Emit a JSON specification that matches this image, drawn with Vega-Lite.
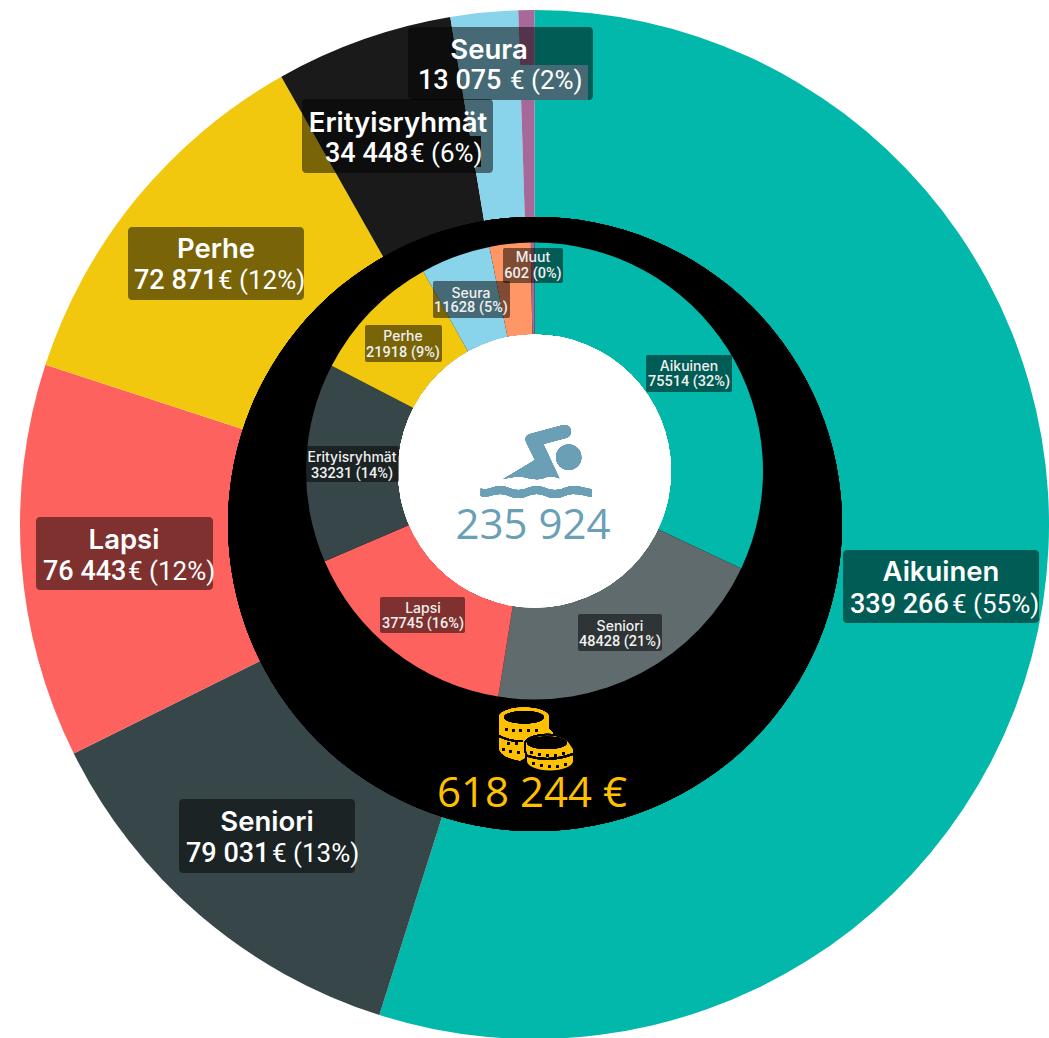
{
"$schema":"https://vega.github.io/schema/vega-lite/v6.json",
"width":1049,"height":1038,"padding":0,"autosize":{"type":"none"},
"background":"white",
"config":{"view":{"stroke":null}},
"datasets":{
"outer":[
{"category":"Aikuinen","euros":339266,"rank":1},
{"category":"Seniori","euros":79031,"rank":2},
{"category":"Lapsi","euros":76443,"rank":3},
{"category":"Perhe","euros":72871,"rank":4},
{"category":"Erityisryhmät","euros":34448,"rank":5},
{"category":"Seura","euros":13075,"rank":6},
{"category":"Muut","euros":3110,"rank":7}],
"inner":[
{"category":"Aikuinen","swimmers":75514,"rank":1},
{"category":"Seniori","swimmers":48428,"rank":2},
{"category":"Lapsi","swimmers":37745,"rank":3},
{"category":"Erityisryhmät","swimmers":33231,"rank":4},
{"category":"Perhe","swimmers":21918,"rank":5},
{"category":"Seura","swimmers":11628,"rank":6},
{"category":"Muu","swimmers":6858,"rank":7},
{"category":"Muut","swimmers":602,"rank":8}],
"patches":[
{"category":"Seura","px0":466,"px1":588,"py0":65,"py1":100},
{"category":"Erityisryhmät","px0":440,"px1":481,"py0":136,"py1":167}],
"outerLabels":[
{"name":"Aikuinen","number":"339 266","suffix":"€ (55%)","bx0":843,"bx1":1039,"by0":550,"by1":623,"cx":941,"y1":581,"y2":613,"nx":850,"sx":952},
{"name":"Seniori","number":"79 031","suffix":"€ (13%)","bx0":179,"bx1":355,"by0":799,"by1":873,"cx":267,"y1":831,"y2":862,"nx":186,"sx":272},
{"name":"Lapsi","number":"76 443","suffix":"€ (12%)","bx0":36,"bx1":213,"by0":517,"by1":590,"cx":124,"y1":549,"y2":580,"nx":43,"sx":128},
{"name":"Perhe","number":"72 871","suffix":"€ (12%)","bx0":128,"bx1":304,"by0":227,"by1":300,"cx":216,"y1":258,"y2":289,"nx":134,"sx":218},
{"name":"Erityisryhmät","number":"34 448","suffix":"€ (6%)","bx0":302,"bx1":493,"by0":99,"by1":173,"cx":398,"y1":132,"y2":162,"nx":325,"sx":410},
{"name":"Seura","number":"13 075","suffix":"€ (2%)","bx0":408,"bx1":593,"by0":27,"by1":100,"cx":489,"y1":59,"y2":89,"nx":418,"sx":510}],
"innerLabels":[
{"name":"Aikuinen","line2":"75514 (32%)","bx0":646,"bx1":732,"by0":355,"by1":392,"cx":689,"y1":371,"y2":386},
{"name":"Seniori","line2":"48428 (21%)","bx0":578,"bx1":662,"by0":614,"by1":651,"cx":620,"y1":631,"y2":646},
{"name":"Lapsi","line2":"37745 (16%)","bx0":380,"bx1":465,"by0":597,"by1":633,"cx":423,"y1":613,"y2":628},
{"name":"Erityisryhmät","line2":"33231 (14%)","bx0":305,"bx1":399,"by0":446,"by1":482,"cx":352,"y1":462,"y2":478},
{"name":"Perhe","line2":"21918 (9%)","bx0":365,"bx1":442,"by0":325,"by1":362,"cx":403,"y1":341,"y2":357},
{"name":"Seura","line2":"11628 (5%)","bx0":433,"bx1":510,"by0":281,"by1":318,"cx":471,"y1":298,"y2":312},
{"name":"Muut","line2":"602 (0%)","bx0":503,"bx1":563,"by0":248,"by1":283,"cx":533,"y1":262,"y2":278}],
"totals":[
{"label":"235 924","tx":533,"ty":539,"colour":"swim"},
{"label":"618 244 €","tx":532,"ty":807,"colour":"coin"}]
},
"data":{"name":"outer"},
"layer":[
{"data":{"name":"outer"},
 "mark":{"type":"arc","radius":514.5,"radius2":0},
 "encoding":{
  "x":{"datum":534.5,"type":"quantitative","scale":{"domain":[0,1049],"range":[0,1049],"nice":false,"zero":false},"axis":null},
  "y":{"datum":524.5,"type":"quantitative","scale":{"domain":[0,1038],"range":[0,1038],"nice":false,"zero":false},"axis":null},
  "theta":{"field":"euros","type":"quantitative","stack":"normalize","scale":{"domain":[0,1],"range":[0,6.28318530718]}},
  "order":{"field":"rank"},
  "color":{"field":"category","type":"nominal","legend":null,"scale":{"domain":["Aikuinen","Seniori","Lapsi","Perhe","Erityisryhmät","Seura","Muut"],"range":["#01B8AA","#374649","#FD625E","#F2C80F","#1A1A1A","#8AD4EB","#A66999"]}}
 }},
{"data":{"name":"patches"},
 "mark":{"type":"rect"},
 "encoding":{
  "x":{"field":"px0","type":"quantitative"},"x2":{"field":"px1"},
  "y":{"field":"py0","type":"quantitative"},"y2":{"field":"py1"},
  "color":{"field":"category","type":"nominal","legend":null,"scale":{"domain":["Erityisryhmät","Seura"],"range":["#1A1A1A","#8AD4EB"]}}
 }},
{"mark":{"type":"point","shape":"circle","filled":true,"fill":"#000000","opacity":1,"strokeWidth":0,"size":376996},
 "encoding":{"x":{"datum":535,"type":"quantitative"},"y":{"datum":524,"type":"quantitative"}}},
{"data":{"name":"inner"},
 "mark":{"type":"arc","radius":228.5,"radius2":136.5},
 "encoding":{
  "x":{"datum":534.5,"type":"quantitative"},
  "y":{"datum":471,"type":"quantitative"},
  "theta":{"field":"swimmers","type":"quantitative","stack":"normalize","scale":{"domain":[0,1],"range":[0,6.28318530718]}},
  "order":{"field":"rank"},
  "color":{"field":"category","type":"nominal","legend":null,"scale":{"domain":["Aikuinen","Seniori","Lapsi","Erityisryhmät","Perhe","Seura","Muu","Muut"],"range":["#01B8AA","#5F6B6D","#FD625E","#374649","#F2C80F","#8AD4EB","#FE9666","#A66999"]}}
 }},
{"mark":{"type":"point","shape":"circle","filled":true,"fill":"#FFFFFF","opacity":1,"strokeWidth":0,"size":74529},
 "encoding":{"x":{"datum":534.5,"type":"quantitative"},"y":{"datum":471,"type":"quantitative"}}},
{"mark":{"type":"point","filled":true,"fill":"#6A9FB5","opacity":1,"strokeWidth":0,"size":4,
  "shape":"M-31.7,14 L0,-5 L-9,-23.3 Q-11,-29 -5,-31 L28.3,-40 Q35,-41 36,-34 Q36,-28 30,-26.7 L8.3,-21 L24.3,13.3 Q18,10.5 11.7,12 Q6,14.5 1.7,14.3 Q-5,14 -11.7,12 Q-20,11 -31.7,14 Z M21,-7.7 A12.7,12.7 0 1 0 46.4,-7.7 A12.7,12.7 0 1 0 21,-7.7 Z M-54.3,23.5 C-47,26 -42,21 -35,21 C-27,21 -24,25 -16.5,25 C-9,25 -6,21 1.7,21 C9,21 12,25 20,25 C28,25 31,21 38,21 C45,21 50,23 56.7,24.3 V32 C50,30.5 45,29 38,29 C31,29 28,33 20,33 C12,33 9,29 1.7,29 C-6,29 -9,33 -16.5,33 C-24,33 -27,29 -35,29 C-42,29 -47,33 -54.3,31 Z"},
 "encoding":{"x":{"datum":535,"type":"quantitative"},"y":{"datum":465,"type":"quantitative"}}},
{"mark":{"type":"point","filled":true,"fill":"#FFC000","opacity":1,"strokeWidth":0,"size":4,
  "shape":"M-36,-18 A25,9.5 0 0 1 14,-18 V-6 L18,-2 V20 H-5 L-15,25.5 Q-36,22 -36,12 V-8 L-33,-4 L-36,-8 Z"},
 "encoding":{"x":{"datum":535,"type":"quantitative"},"y":{"datum":735,"type":"quantitative"}}},
{"mark":{"type":"point","filled":true,"fill":"#FFC000","stroke":"#000000","opacity":1,"strokeWidth":2,"size":4,
  "shape":"M-10,8 A23,10.5 0 0 1 35,8 L39,14 V26 A24,10.5 0 0 1 -9,26 V18 L-10,16 Z"},
 "encoding":{"x":{"datum":535,"type":"quantitative"},"y":{"datum":735,"type":"quantitative"}}},
{"mark":{"type":"point","filled":true,"fill":"#000000","opacity":1,"strokeWidth":0,"size":4,
  "shape":"M-31,-17.7 A20,6.3 0 1 1 9,-17.7 A20,6.3 0 1 1 -31,-17.7 Z M-8,7.7 A20,6.3 0 1 1 32,7.7 A20,6.3 0 1 1 -8,7.7 Z M-30,-7 h2.5 v2.5 h-2.5 Z M-23,-6 h2.5 v2.5 h-2.5 Z M-16,-5.5 h2.5 v2.5 h-2.5 Z M-8,-5.5 h2.5 v2.5 h-2.5 Z M0,-6 h2.5 v2.5 h-2.5 Z M-28,7 h2.5 v2.5 h-2.5 Z M-20,7 h2.5 v2.5 h-2.5 Z M-33,13 h2.5 v2.5 h-2.5 Z M-26,15 h2.5 v2.5 h-2.5 Z M-18,16 h2.5 v2.5 h-2.5 Z M-5,16 h2.5 v2.5 h-2.5 Z M3,18 h2.5 v2.5 h-2.5 Z M11,19 h2.5 v2.5 h-2.5 Z M19,19 h2.5 v2.5 h-2.5 Z M27,17 h2.5 v2.5 h-2.5 Z M-3,27 h2.5 v2.5 h-2.5 Z M5,29 h2.5 v2.5 h-2.5 Z M13,30 h2.5 v2.5 h-2.5 Z M21,30 h2.5 v2.5 h-2.5 Z M29,28 h2.5 v2.5 h-2.5 Z M-36,0 Q-25,6 -12,5.5 V7 Q-25,7.5 -36,2 Z M-9,19.5 Q14,27 38,18 V20 Q14,29 -9,21.5 Z"},
 "encoding":{"x":{"datum":535,"type":"quantitative"},"y":{"datum":735,"type":"quantitative"}}},
{"data":{"name":"outerLabels"},
 "mark":{"type":"rect","fill":"#000000","opacity":0.5,"cornerRadius":4},
 "encoding":{"x":{"field":"bx0","type":"quantitative"},"x2":{"field":"bx1"},"y":{"field":"by0","type":"quantitative"},"y2":{"field":"by1"}}},
{"data":{"name":"innerLabels"},
 "mark":{"type":"rect","fill":"#000000","opacity":0.5,"cornerRadius":2},
 "encoding":{"x":{"field":"bx0","type":"quantitative"},"x2":{"field":"bx1"},"y":{"field":"by0","type":"quantitative"},"y2":{"field":"by1"}}},
{"data":{"name":"outerLabels"},
 "mark":{"type":"text","font":"Inter","fontSize":27.5,"fontWeight":600,"fill":"#FFFFFF","align":"center","baseline":"alphabetic"},
 "encoding":{"x":{"field":"cx","type":"quantitative"},"y":{"field":"y1","type":"quantitative"},"text":{"field":"name"}}},
{"data":{"name":"outerLabels"},
 "mark":{"type":"text","font":"Roboto","fontSize":27,"fontWeight":500,"fill":"#FFFFFF","align":"left","baseline":"alphabetic"},
 "encoding":{"x":{"field":"nx","type":"quantitative"},"y":{"field":"y2","type":"quantitative"},"text":{"field":"number"}}},
{"data":{"name":"outerLabels"},
 "mark":{"type":"text","font":"Roboto","fontSize":26,"fontWeight":400,"fill":"#FFFFFF","align":"left","baseline":"alphabetic"},
 "encoding":{"x":{"field":"sx","type":"quantitative"},"y":{"field":"y2","type":"quantitative"},"text":{"field":"suffix"}}},
{"data":{"name":"innerLabels"},
 "mark":{"type":"text","font":"Inter","fontSize":14,"fontWeight":500,"fill":"#F0F0F0","align":"center","baseline":"alphabetic"},
 "encoding":{"x":{"field":"cx","type":"quantitative"},"y":{"field":"y1","type":"quantitative"},"text":{"field":"name"}}},
{"data":{"name":"innerLabels"},
 "mark":{"type":"text","font":"Roboto","fontSize":14.5,"fontWeight":500,"fill":"#F0F0F0","align":"center","baseline":"alphabetic"},
 "encoding":{"x":{"field":"cx","type":"quantitative"},"y":{"field":"y2","type":"quantitative"},"text":{"field":"line2"}}},
{"data":{"name":"totals"},
 "mark":{"type":"text","font":"Open Sans","fontSize":42,"align":"center","baseline":"alphabetic"},
 "encoding":{"x":{"field":"tx","type":"quantitative"},"y":{"field":"ty","type":"quantitative"},"text":{"field":"label"},
  "color":{"field":"colour","type":"nominal","legend":null,"scale":{"domain":["swim","coin"],"range":["#6A9FB5","#FFC000"]}}}}
],
"resolve":{"scale":{"color":"independent","theta":"independent"}}
}
